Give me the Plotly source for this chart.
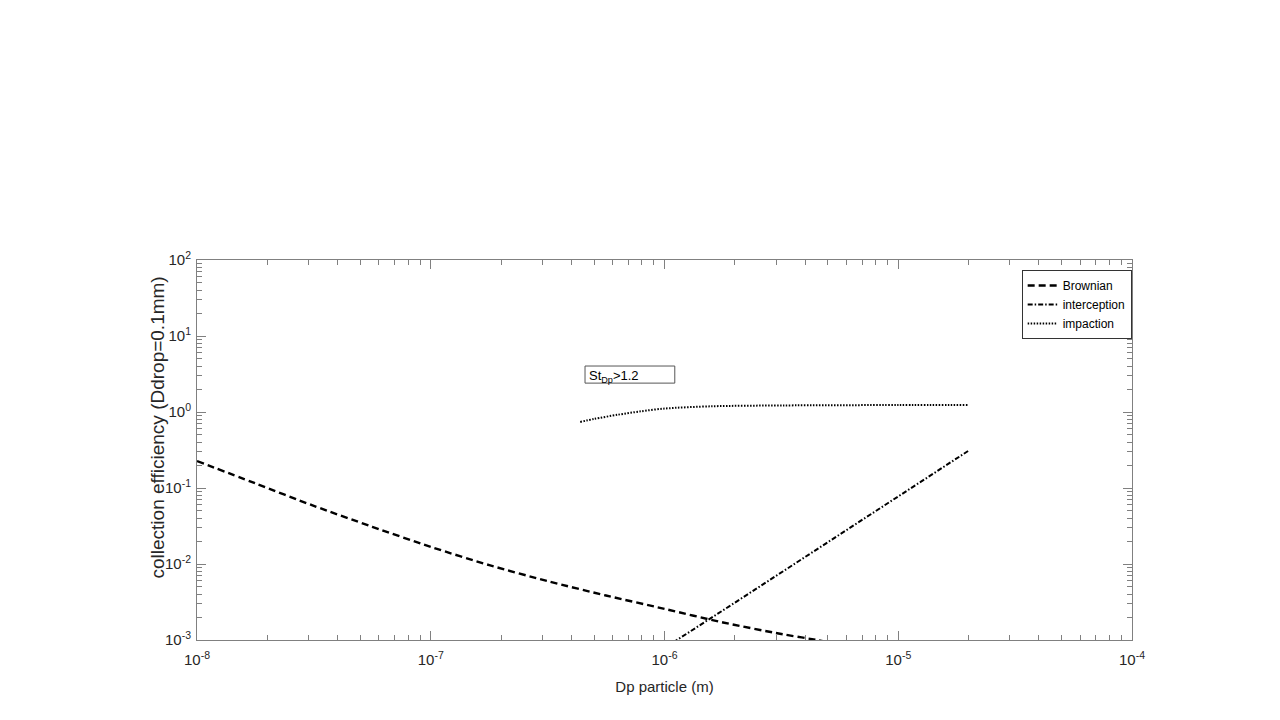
import plotly.graph_objects as go

# ---- data ----
brownian_dp = [1e-8, 1.78e-8, 3.16e-8, 5.62e-8, 1e-7, 1.78e-7, 3.16e-7, 5.62e-7,
               1e-6, 1.78e-6, 3.16e-6, 4.47e-6, 1e-5, 2e-5]
brownian_eff = [0.2265, 0.1148, 0.0582, 0.0309, 0.0168, 0.00966, 0.00596, 0.00385,
                0.00257, 0.0017, 0.0012, 0.0010, 0.00062, 0.00041]

interception_dp = [1.0e-6, 1.13e-6, 2e-6, 5e-6, 1e-5, 2e-5]
interception_eff = [7.8e-4, 1.0e-3, 3.1e-3, 1.95e-2, 7.8e-2, 0.31]

impaction_dp = [4.36e-7, 5.0e-7, 6.3e-7, 7.9e-7, 1e-6, 1.6e-6, 3.2e-6, 1e-5, 2e-5]
impaction_eff = [0.74, 0.81, 0.92, 1.02, 1.11, 1.19, 1.22, 1.235, 1.24]

x_decades = [-8, -7, -6, -5, -4]
y_decades = [-3, -2, -1, 0, 1, 2]
x_ticktext = ["10<sup>-8</sup>", "10<sup>-7</sup>", "10<sup>-6</sup>", "10<sup>-5</sup>", "10<sup>-4</sup>"]
y_ticktext = ["10<sup>-3</sup>", "10<sup>-2</sup>", "10<sup>-1</sup>", "10<sup>0</sup>", "10<sup>1</sup>", "10<sup>2</sup>"]

x_title = "Dp particle (m)"
y_title = "collection efficiency (Ddrop=0.1mm)"
note_text = "St<sub>Dp</sub>&gt;1.2"

# minor ticks at 2..9 x each decade
x_minor = [m * 10.0 ** d for d in x_decades[:-1] for m in range(2, 10)]
y_minor = [m * 10.0 ** d for d in y_decades[:-1] for m in range(2, 10)]

REG = "Liberation Sans, Arial, sans-serif"
AXC = "#808080"
TXT = "#262626"

fig = go.Figure()
fig.add_trace(go.Scatter(x=brownian_dp, y=brownian_eff, mode="lines", name="Brownian",
                         line=dict(color="black", width=2.4, dash="7px,4px",
                                   shape="spline", smoothing=0.8)))
fig.add_trace(go.Scatter(x=interception_dp, y=interception_eff, mode="lines", name="interception",
                         line=dict(color="black", width=2, dash="5px,2px,1.5px,2px")))
fig.add_trace(go.Scatter(x=impaction_dp, y=impaction_eff, mode="lines", name="impaction",
                         line=dict(color="black", width=2, dash="1.5px,1.5px",
                                   shape="spline", smoothing=0.8)))

axis_common = dict(
    type="log", showgrid=False, zeroline=False,
    showline=True, linecolor=AXC, linewidth=1, mirror="ticks",
    ticks="inside", ticklen=9, tickcolor=AXC, tickwidth=1,
    tickfont=dict(family=REG, size=15, color=TXT),
)

fig.update_xaxes(**axis_common,
                 range=[x_decades[0], x_decades[-1]],
                 tickmode="array",
                 tickvals=[10.0 ** d for d in x_decades], ticktext=x_ticktext,
                 ticklabelstandoff=6,
                 minor=dict(tickvals=x_minor, ticks="inside", ticklen=5, tickcolor=AXC),
                 title=dict(text=x_title, font=dict(family=REG, size=15, color=TXT), standoff=14))
fig.update_yaxes(**axis_common,
                 range=[y_decades[0], y_decades[-1]],
                 tickmode="array",
                 tickvals=[10.0 ** d for d in y_decades], ticktext=y_ticktext,
                 ticklabelstandoff=2,
                 minor=dict(tickvals=y_minor, ticks="inside", ticklen=5, tickcolor=AXC))

# y-axis title placed precisely as a rotated annotation
fig.add_annotation(xref="paper", yref="paper", x=-0.0418, y=0.559,
                   xanchor="center", yanchor="middle", textangle=-90,
                   text=y_title, showarrow=False,
                   font=dict(family=REG, size=19, color=TXT))

# note box
fig.add_shape(type="rect", xref="paper", yref="paper",
              x0=0.415, x1=0.511, y0=0.676, y1=0.721,
              line=dict(color="#555555", width=1), fillcolor="rgba(0,0,0,0)")
fig.add_annotation(xref="paper", yref="paper", x=0.4175, y=0.693,
                   xanchor="left", yanchor="middle", text=note_text, showarrow=False,
                   font=dict(family=REG, size=13, color="black"))

# page body has an 8px margin, so offsets are compensated here
fig.update_layout(
    width=1280, height=720,
    margin=dict(l=189, r=156, t=252, b=88, autoexpand=False),
    paper_bgcolor="white", plot_bgcolor="white",
    showlegend=True,
    legend=dict(x=0.882, y=0.9737, xanchor="left", yanchor="top",
                bgcolor="white", bordercolor="#333333", borderwidth=1,
                font=dict(family=REG, size=12, color="black"),
                itemwidth=30, tracegroupgap=0),
)

fig.write_html("out.html")
